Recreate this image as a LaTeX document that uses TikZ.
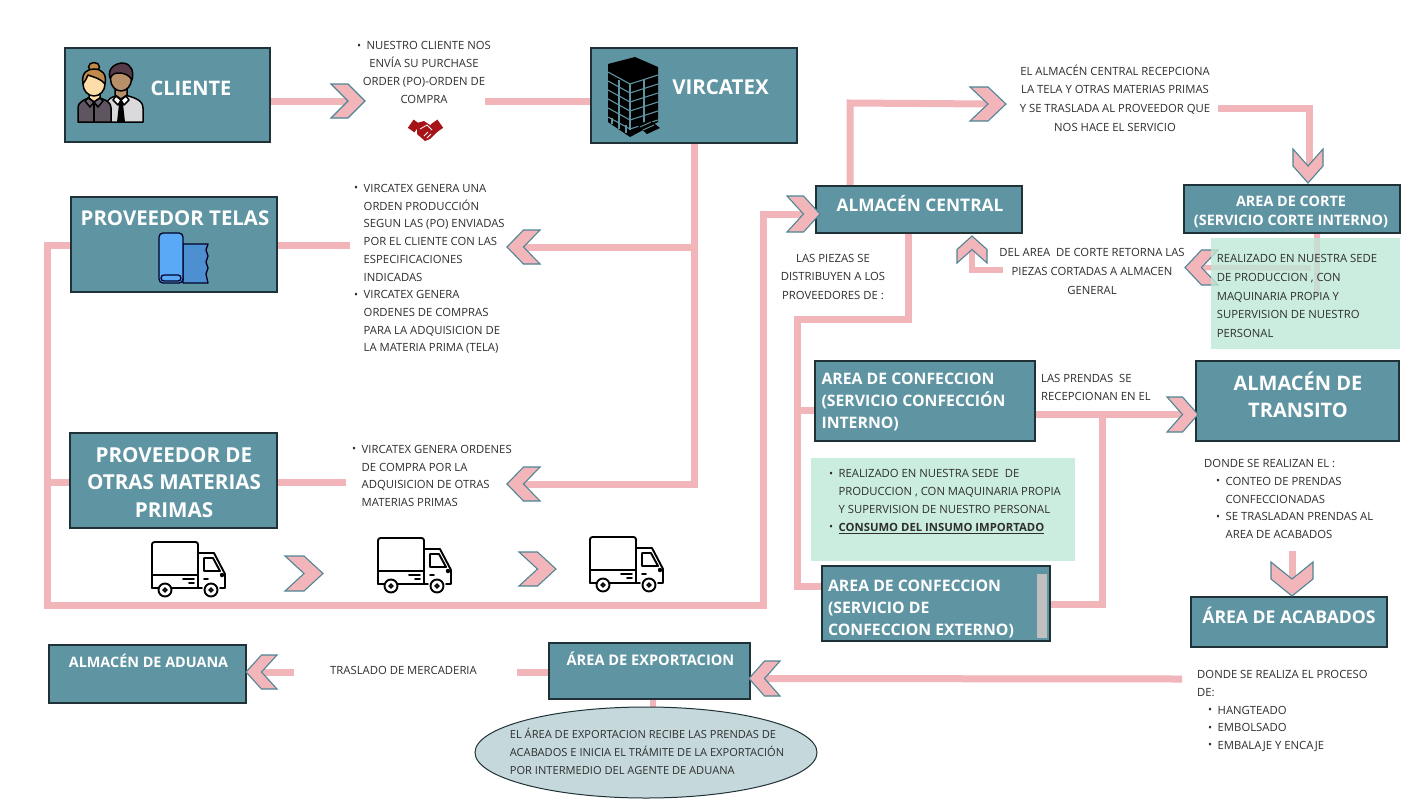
\documentclass[tikz,border=0pt]{standalone}
\usepackage{fontspec}
\setmainfont{Open Sans}
\usetikzlibrary{shapes.geometric,calc}
\pgfdeclarelayer{bg}
\pgfsetlayers{bg,main}
\definecolor{teal}{HTML}{5F94A3}
\definecolor{tealedge}{HTML}{1F3237}
\definecolor{pinkline}{HTML}{F2B5BA}
\definecolor{chevedge}{HTML}{4F8595}
\definecolor{greenbg}{HTML}{BDE8D6}
\definecolor{ellipsebg}{HTML}{C5D9DC}
\definecolor{inktext}{HTML}{2E2E2E}
\definecolor{skinA}{HTML}{FFDDA8}
\definecolor{skinB}{HTML}{B8906A}
\definecolor{hairA}{HTML}{C08A4A}
\definecolor{hairB}{HTML}{553A48}
\definecolor{suitA}{HTML}{5E5560}
\definecolor{shirtB}{HTML}{DADADC}
\definecolor{rollblue}{HTML}{5AA9F7}
\definecolor{shakered}{HTML}{A61417}
\tikzset{
  x=1pt,y=-1pt,
  boxnode/.style={draw=tealedge,line width=1.5pt,fill=teal,text=white,inner sep=0pt,font=\bfseries},
  greennode/.style={fill=greenbg,fill opacity=.78,text opacity=1,text=inktext,inner sep=0pt},
  ellnode/.style={ellipse,draw=tealedge,line width=1pt,fill=ellipsebg,text=inktext,inner sep=0pt},
  conn/.style={draw=pinkline,line width=7pt,line cap=butt,line join=miter},
  connthin/.style={draw=pinkline,line width=5.5pt,line cap=butt,line join=miter},
  chevstyle/.style={fill=pinkline,draw=chevedge,line width=1.1pt,line join=miter},
  txt/.style={text=inktext,inner sep=0pt,font=\fontsize{11.3}{17.7}\selectfont},
  truckline/.style={draw=black,line width=1.9pt,line join=round,line cap=round},
}
\newcommand{\bul}{\makebox[9.5pt][l]{\raisebox{.6pt}{\scalebox{.95}{•}}}}
\newcommand{\hng}{\hspace*{9.5pt}}
% \bx{style}{name}{x1}{y1}{x2}{y2}{text cx}{text cy}{size}{leading}{col}{text}
\newcommand{\bx}[9]{%
  \pgfmathsetmacro{\bxw}{#5-#3}\pgfmathsetmacro{\bxh}{#6-#4}%
  \pgfmathsetmacro{\bxcx}{(#3+#5)/2}\pgfmathsetmacro{\bxcy}{(#4+#6)/2}%
  \pgfmathsetmacro{\bxdx}{2*(#7-\bxcx)}\pgfmathsetmacro{\bxdy}{\bxcy-#8}%
  \def\bxstyle{#1}\def\bxname{#2}\def\bxfs{#9}\bxcont}
\newcommand{\bxcont}[3]{%
  \node[\bxstyle,minimum width=\bxw pt,minimum height=\bxh pt] (\bxname) at (\bxcx,\bxcy)
  {\fontsize{\bxfs}{#1}\selectfont\raisebox{\dimexpr\bxdy pt-.33em\relax}[0pt][0pt]{\makebox[0pt]{\hspace*{\bxdx pt}\begin{tabular}[c]{@{}#2@{}}#3\end{tabular}}}};}
% chevrons: name x1 y1 x2 y2
\newcommand{\chevR}[5]{\draw[chevstyle] (#2,#3)--({(#2+#4)/2},#3)--(#4,{(#3+#5)/2})--({(#2+#4)/2},#5)--(#2,#5)--({(#2+#4)/2},{(#3+#5)/2})--cycle;\coordinate (#1) at ({(#2+#4)/2+2},{(#3+#5)/2});}
\newcommand{\chevL}[5]{\draw[chevstyle] (#4,#3)--({(#2+#4)/2},#3)--(#2,{(#3+#5)/2})--({(#2+#4)/2},#5)--(#4,#5)--({(#2+#4)/2},{(#3+#5)/2})--cycle;\coordinate (#1) at ({(#2+#4)/2-2},{(#3+#5)/2});}
\newcommand{\chevU}[5]{\draw[chevstyle] (#2,#5)--(#2,{(#3+#5)/2})--({(#2+#4)/2},#3)--(#4,{(#3+#5)/2})--(#4,#5)--({(#2+#4)/2},{(#3+#5)/2})--cycle;\coordinate (#1) at ({(#2+#4)/2},{(#3+#5)/2-2});}
\newcommand{\chevD}[5]{\draw[chevstyle] (#2,#3)--(#2,{(#3+#5)/2})--({(#2+#4)/2},#5)--(#4,{(#3+#5)/2})--(#4,#3)--({(#2+#4)/2},{(#3+#5)/2})--cycle;\coordinate (#1) at ({(#2+#4)/2},{(#3+#5)/2+2});}
\newcommand{\truck}[2]{\begin{scope}[shift={(#1,#2)}]
  \draw[truckline,rounded corners=2.5pt] (0,46)--(0,0)--(46,0)--(46,46);
  \draw[truckline] (0,33)--(46,33);
  \draw[truckline] (46,11)--(62,11)--(73,32)--(73,46)--(68,46);
  \draw[truckline] (52,16)--(61,16)--(68,29)--(52,29)--cycle;
  \draw[truckline] (52,37)--(56,37);
  \draw[truckline] (20,46)--(50,46);
  \draw[truckline] (6,46)--(0,46);
  \draw[truckline] (31,37)--(42,37) (37,41)--(42,41);
  \draw[truckline,fill=white] (13,48) circle[radius=6.5];
  \draw[truckline,fill=white] (59,48) circle[radius=6.5];
  \draw[draw=black,line width=1.6pt] (13,48) circle[radius=1.8] (59,48) circle[radius=1.8];
  \fill[black] (70,33) circle[radius=2.2];
\end{scope}}
\begin{document}
\begin{tikzpicture}
\useasboundingbox (0,0) rectangle (1428,807);
\begin{pgfonlayer}{bg}
\fill[white] (0,0) rectangle (1428,807);
\end{pgfonlayer}

% --- boxes ---
\bx{boxnode}{cliente}{65}{48}{270}{142}{191}{89}{20}{24}{c}{CLIENTE}
\bx{boxnode}{vircatex}{591}{48}{797}{143}{720.5}{88}{20.5}{24}{c}{VIRCATEX}
\bx{boxnode}{telas}{71}{197}{277}{292}{175}{219}{20.4}{24}{c}{PROVEEDOR TELAS}
\bx{boxnode}{otras}{70}{433}{277}{528}{174}{482.5}{20.6}{27.5}{c}{PROVEEDOR DE\\OTRAS MATERIAS\\PRIMAS}
\bx{boxnode}{central}{816}{186}{1022}{233}{920}{205}{17.3}{22}{c}{ALMACÉN CENTRAL}
\bx{boxnode}{corte}{1184}{185}{1400}{233}{1291}{211.5}{14.4}{19}{c}{AREA DE CORTE\\(SERVICIO CORTE INTERNO)}
\bx{boxnode}{interno}{815}{361}{1035}{441}{913.5}{400.5}{15.8}{22}{l}{AREA DE CONFECCION\\(SERVICIO CONFECCIÓN\\INTERNO)}
\bx{boxnode}{transito}{1196}{361}{1399}{441}{1298}{397.5}{20}{27}{c}{ALMACÉN DE\\TRANSITO}
\bx{boxnode}{externo}{822}{566}{1050}{641}{921}{607.5}{15.8}{22}{l}{AREA DE CONFECCION\\(SERVICIO DE\\CONFECCION EXTERNO)}
\bx{boxnode}{acabados}{1191}{597}{1387}{647}{1289}{617}{17.6}{22}{c}{ÁREA DE ACABADOS}
\bx{boxnode}{aduana}{49}{645}{246}{703}{148.5}{662}{14.4}{18}{c}{ALMACÉN DE ADUANA}
\bx{boxnode}{export}{549}{643}{750}{699}{650.5}{660.5}{14.6}{18}{c}{ÁREA DE EXPORTACION}
\fill[gray!50!white] (1037,574) rectangle (1047,638);

\bx{ellnode}{ellip}{475}{707}{817}{798}{647}{752}{11.1}{18.3}{l}{EL ÁREA DE EXPORTACION RECIBE LAS PRENDAS DE\\ACABADOS E INICIA EL TRÁMITE DE LA EXPORTACIÓN\\POR INTERMEDIO DEL AGENTE DE ADUANA}

% --- chevrons ---
\chevR{chCli}{331}{84}{365}{118}
\chevL{chTel}{507}{230}{540}{264}
\chevL{chOtr}{507}{467}{540}{501}
\chevR{chCen}{787}{196}{820}{232}
\chevR{chAlm}{970}{87}{1006}{121}
\chevD{chCor}{1293}{149}{1323}{183}
\chevL{chRet}{1185}{250}{1218}{285}
\chevU{chUp}{957}{236}{987}{263}
\chevR{chTra}{1167}{397}{1198}{432}
\chevD{chAca}{1271}{562}{1313}{596}
\chevL{chExp}{749}{661}{780}{696}
\chevL{chAdu}{246}{655}{277}{689}
\chevR{chTrA}{285}{556}{323}{591}
\chevR{chTrB}{519}{552}{556}{586}

% --- free ends and bends ---
\coordinate (cliOut) at (485,101);
\coordinate (telStub) at (350,245);
\coordinate (otrStub) at (346,482);
\coordinate (busTop) at (47,245);
\coordinate (busBot) at (47,605);
\coordinate (busUp) at (763,605);
\coordinate (almUp) at (850,103);
\coordinate (almOut) at (1218,108);
\coordinate (almBend) at (1309,108);
\coordinate (corteOut) at (1317,233);
\coordinate (corteFoot) at (1317,295);
\coordinate (corteIn) at (1311,268);
\coordinate (retEnd) at (1003,270);
\coordinate (piezaOut) at (908,233);
\coordinate (piezaBendA) at (908,319);
\coordinate (piezaBendB) at (797,319);
\coordinate (confA) at (797,410);
\coordinate (confB) at (797,586);
\coordinate (transJoin) at (1102,414);
\coordinate (transFoot) at (1102,604);
\coordinate (traOut) at (1292,551);
\coordinate (expIn) at (1182,679);
\coordinate (aduOut) at (294,672);
\coordinate (expOut) at (517,672);
\coordinate (elipTop) at (653,711);

\begin{pgfonlayer}{bg}
\draw[conn] (cliente.east |- chCli) -- (chCli);
\draw[conn] (cliOut) -- (vircatex.west |- cliOut);
\draw[conn] (vircatex.south) -- (vircatex.south |- chOtr) -- (chOtr);
\draw[conn] (vircatex.south |- chTel) -- (chTel);
\draw[conn] (telas.east |- telStub) -- (telStub);
\draw[conn] (otras.east |- otrStub) -- (otrStub);
\draw[conn] (telas.west |- busTop) -- (busTop) -- (busBot) -- (busUp) -- (busUp |- chCen) -- (chCen);
\draw[conn] (otras.west |- otrStub) -- (busTop |- otrStub);
\draw[conn] (almUp |- central.north) -- (almUp) -- (chAlm);
\draw[conn] (almOut) -- (almBend) -- (almBend |- chCor);
\draw[connthin] (corteOut) -- (corteFoot);
\draw[connthin] (corteIn) -- (chRet);
\draw[connthin] (retEnd) -- (chUp |- retEnd) -- (chUp);
\draw[conn] (piezaOut) -- (piezaBendA) -- (piezaBendB) -- (confB) -- (externo.west |- confB);
\draw[conn] (confA) -- (interno.west |- confA);
\draw[conn] (interno.east |- chTra) -- (chTra);
\draw[conn] (transJoin) -- (transFoot);
\draw[conn] (externo.east |- transFoot) -- ([xshift=3.5pt]transFoot);
\draw[conn] (traOut) -- (chAca);
\draw[conn] (expIn) -- (chExp);
\draw[conn] (chAdu) -- (aduOut);
\draw[conn] (expOut) -- (export.west |- expOut);
\draw[connthin] (elipTop |- export.south) -- (elipTop);
\end{pgfonlayer}

% --- translucent notes over the connectors ---
\bx{greennode}{notaCorte}{1211}{238}{1400}{349}{1297}{295.5}{11.3}{18.7}{l}{REALIZADO EN NUESTRA SEDE\\DE PRODUCCION , CON\\MAQUINARIA PROPIA Y\\SUPERVISION DE NUESTRO\\PERSONAL}
\bx{greennode}{notaConf}{811}{458}{1075}{561}{945}{500}{11.3}{17.8}{l}{\bul REALIZADO EN NUESTRA SEDE\ \ DE\\\hng PRODUCCION , CON MAQUINARIA PROPIA\\\hng Y SUPERVISION DE NUESTRO PERSONAL\\\bul\textbf{\underline{CONSUMO DEL INSUMO IMPORTADO}}}

% --- text ---
\node[txt,align=center] (tCli) at (424,72.5) {\bul NUESTRO CLIENTE NOS\\ENVÍA SU PURCHASE\\ORDER (PO)-ORDEN DE\\COMPRA};
\node[txt,align=left,anchor=west] (tTel) at (354,269) {\bul VIRCATEX GENERA UNA\\\hng ORDEN PRODUCCIÓN\\\hng SEGUN LAS (PO) ENVIADAS\\\hng POR EL CLIENTE CON LAS\\\hng ESPECIFICACIONES\\\hng INDICADAS\\\bul VIRCATEX GENERA\\\hng ORDENES DE COMPRAS\\\hng PARA LA ADQUISICION DE\\\hng LA MATERIA PRIMA (TELA)};
\node[txt,align=left,anchor=west] (tOtr) at (352,476) {\bul VIRCATEX GENERA ORDENES\\\hng DE COMPRA POR LA\\\hng ADQUISICION DE OTRAS\\\hng MATERIAS PRIMAS};
\node[txt,align=center,font=\fontsize{11.3}{18.6}\selectfont] (tAlm) at (1115,98) {EL ALMACÉN CENTRAL RECEPCIONA\\LA TELA Y OTRAS MATERIAS PRIMAS\\Y SE TRASLADA AL PROVEEDOR QUE\\NOS HACE EL SERVICIO};
\node[txt,align=center,font=\fontsize{11.3}{18.5}\selectfont] (tPie) at (833,276.5) {LAS PIEZAS SE\\DISTRIBUYEN A LOS\\PROVEEDORES DE :};
\node[txt,align=center,font=\fontsize{11.3}{19}\selectfont] (tRet) at (1092,271) {DEL AREA\ \ DE CORTE RETORNA LAS\\PIEZAS CORTADAS A ALMACEN\\GENERAL};
\node[txt,align=left,anchor=west] (tPre) at (1041,387.5) {LAS PRENDAS\ \ SE\\RECEPCIONAN EN EL};
\node[txt,align=left,anchor=west] (tDon) at (1204,499) {DONDE SE REALIZAN EL :\\\hspace*{12pt}\bul CONTEO DE PRENDAS\\\hspace*{21.5pt}CONFECCIONADAS\\\hspace*{12pt}\bul SE TRASLADAN PRENDAS AL\\\hspace*{21.5pt}AREA DE ACABADOS};
\node[txt,align=left,anchor=west] (tTra) at (330,670) {TRASLADO DE MERCADERIA};
\node[txt,align=left,anchor=west] (tPro) at (1197,711) {DONDE SE REALIZA EL PROCESO\\DE:\\\hspace*{11pt}\bul HANGTEADO\\\hspace*{11pt}\bul EMBOLSADO\\\hspace*{11pt}\bul EMBALAJE Y ENCAJE};

% --- trucks ---
\truck{152}{542}
\truck{378}{538}
\truck{590}{537}

% --- people icon ---
\begin{scope}[draw=black,line width=1.5pt,line join=round]
 % man
 \draw[fill=shirtB] (106,122)--(106,106) .. controls (106,99) and (112,97) .. (121,94) .. controls (132,97) and (143,99) .. (143,108)--(143,122)--cycle;
 \fill[black] (118,100)--(124,100)--(123,104)--(125,122)--(117,122)--(119,104)--cycle;
 \draw[fill=skinB] (115,86)--(115,95)--(121,99)--(127,95)--(127,86)--cycle;
 \draw[fill=skinB] (121,79) ellipse[x radius=10.5,y radius=12];
 \draw[fill=hairB] (110,78) .. controls (107,68) and (116,63) .. (123,63) .. controls (132,64) and (134,72) .. (132,80) .. controls (128,74) and (124,73) .. (118,73) .. controls (114,73) and (112,75) .. (110,78)--cycle;
 \draw[fill=white] (116,96)--(121,100)--(118,105)--(113,100)--cycle (126,96)--(121,100)--(124,105)--(129,100)--cycle;
 % woman
 \draw[fill=suitA] (78,122)--(78,108) .. controls (78,101) and (86,99) .. (94,96) .. controls (103,99) and (111,101) .. (111,108)--(111,122)--cycle;
 \draw (94,104)--(94,122);
 \draw[fill=skinA] (89,92)--(89,98)--(94,102)--(100,98)--(100,92)--cycle;
 \draw[fill=white!10!suitA] (88,98)--(94,102)--(90,107)--(85,101)--cycle (100,98)--(94,102)--(98,107)--(103,101)--cycle;
 \draw[fill=hairA] (94,67) ellipse[x radius=5.5,y radius=4.5];
 \draw[fill=skinA] (94,84) ellipse[x radius=11,y radius=12];
 \draw[fill=hairA] (83,84) .. controls (81,72) and (88,69) .. (94,69) .. controls (102,69) and (107,74) .. (105,84) .. controls (100,78) and (93,77) .. (88,75) .. controls (87,78) and (85,81) .. (83,84)--cycle;
\end{scope}

% --- fabric roll icon ---
\begin{scope}[draw=black!85!blue,line width=1.3pt,line join=round]
 \draw[fill=rollblue!85!black] (183,244)--(208,244) -- (206,250)--(208,256)--(206,262)--(208,268)--(206,274)--(208,283)--(183,283)--cycle;
 \draw[fill=rollblue,rounded corners=4pt] (159,233) rectangle (183,283);
 \draw[rounded corners=3pt] (161,275) rectangle (181,281);
\end{scope}

% --- building icon ---
\fill[black] (608,64)--(635,57)--(658,67)--(658,122)--(630,137)--(608,122)--cycle;
\begin{scope}[draw=teal,line width=1.1pt]
 \foreach \k in {0,1,2,3,4,5}{
  \draw (608,{72+\k*9})--(630,{84+\k*9})--(658,{75+\k*9});}
 \draw (619,80)--(619,122) (630,84)--(630,130) (644,80)--(644,125);
 \draw (612,118)--(612,124) (619,122)--(619,129) (626,125)--(626,133);
\end{scope}
\fill[black] (637,125)--(650,120)--(660,128)--(647,134)--cycle;
\draw[teal,line width=.9pt] (640,127)--(651,122) (643,130)--(654,125);

% --- handshake icon ---
\begin{scope}[shakered]
 \fill[rotate around={55:(414,126)}] (409,122) rectangle (419,130);
 \fill[rotate around={-55:(437,126)}] (432,122) rectangle (442,130);
 \fill (417,123)--(424,121)--(430,125)--(434,124)--(438,131)--(430,139)--(425,141)--(417,134)--cycle;
 \draw[white,line width=.8pt] (420,129)--(427,125)--(432,130) (424,136)--(428,132) (427,138)--(431,134);
\end{scope}
\end{tikzpicture}
\end{document}
